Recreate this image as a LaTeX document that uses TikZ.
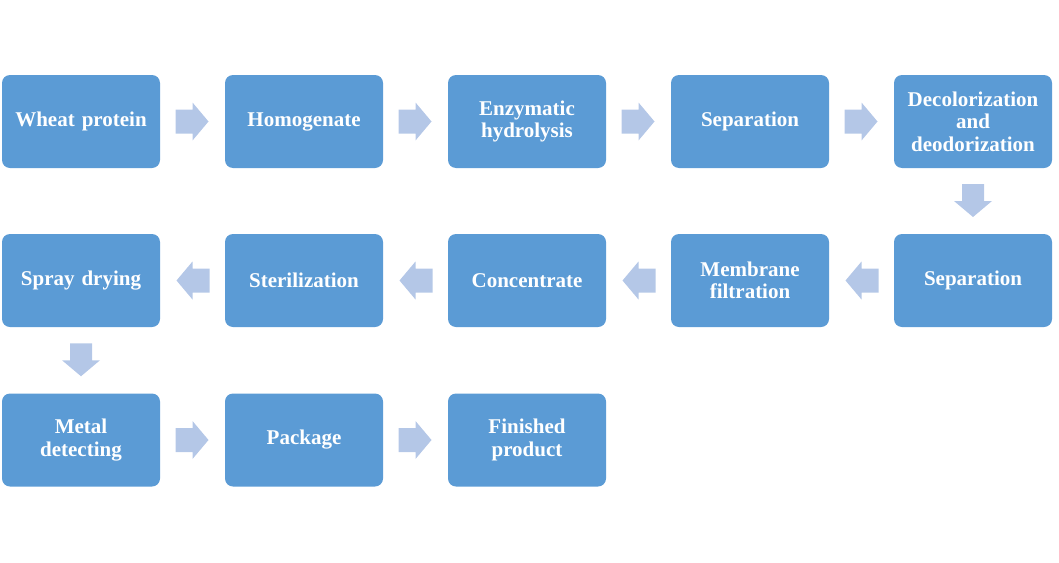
\documentclass[tikz,border=0pt]{standalone}
\usepackage{fontspec}
\setmainfont{Liberation Serif}
\usetikzlibrary{calc}
\definecolor{boxblue}{HTML}{5B9BD5}
\definecolor{arrblue}{HTML}{B4C7E7}
\tikzset{
  stepbox/.style={rectangle, rounded corners=8pt, fill=boxblue, draw=none,
    minimum width=158pt, minimum height=93pt, inner sep=0pt,
    text width=150pt, align=center, text=white,
    font=\fontsize{21}{22.5}\selectfont\bfseries},
  flowarr/.style={fill=arrblue, draw=none}
}
\newcommand{\rarr}[2]{\fill[flowarr] ($(#1.east)!0.5!(#2.west)$) ++(-17,-12) -- ++(17,0) -- ++(0,-7) -- ++(16,19) -- ++(-16,19) -- ++(0,-7) -- ++(-17,0) -- cycle;}
\newcommand{\larr}[2]{\fill[flowarr] ($(#1.west)!0.5!(#2.east)$) ++(17,-12) -- ++(-17,0) -- ++(0,-7) -- ++(-16,19) -- ++(16,19) -- ++(0,-7) -- ++(17,0) -- cycle;}
\newcommand{\darr}[2]{\fill[flowarr] ($(#1.south)!0.5!(#2.north)$) ++(-11,-17) -- ++(0,17) -- ++(-8,0) -- ++(19,16) -- ++(19,-16) -- ++(-8,0) -- ++(0,-17) -- cycle;}
\begin{document}
\begin{tikzpicture}[x=1pt,y=-1pt]
\useasboundingbox (0,0) rectangle (1059,562);
\node[stepbox] (a1) at (81,121.5) {Wheat protein};
\node[stepbox] (a2) at (304,121.5) {Homogenate};
\node[stepbox] (a3) at (527,121.5) {Enzymatic\\hydrolysis};
\node[stepbox] (a4) at (750,121.5) {Separation};
\node[stepbox] (a5) at (973,121.5) {Decolorization\\and\\deodorization};
\node[stepbox] (b5) at (973,280.5) {Separation};
\node[stepbox] (b4) at (750,280.5) {Membrane\\filtration};
\node[stepbox] (b3) at (527,280.5) {Concentrate};
\node[stepbox] (b2) at (304,280.5) {Sterilization};
\node[stepbox] (b1) at (81,280.5) {Spray drying};
\node[stepbox] (c1) at (81,440) {Metal\\detecting};
\node[stepbox] (c2) at (304,440) {Package};
\node[stepbox] (c3) at (527,440) {Finished\\product};
\rarr{a1}{a2}
\rarr{a2}{a3}
\rarr{a3}{a4}
\rarr{a4}{a5}
\darr{a5}{b5}
\larr{b5}{b4}
\larr{b4}{b3}
\larr{b3}{b2}
\larr{b2}{b1}
\darr{b1}{c1}
\rarr{c1}{c2}
\rarr{c2}{c3}
\end{tikzpicture}
\end{document}
